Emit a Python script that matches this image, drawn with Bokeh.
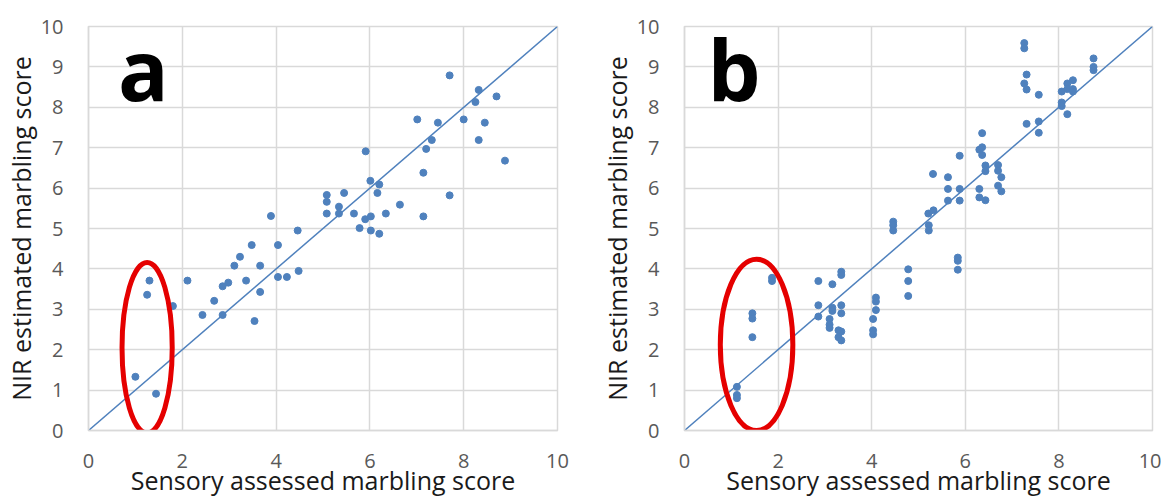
from bokeh.plotting import figure
from bokeh.layouts import row
from bokeh.models import Label, FixedTicker
from bokeh.embed import file_html
from bokeh.resources import INLINE

# ---- data ----
a_x = [1.00, 1.25, 1.30, 1.44, 1.80, 2.11, 2.43, 2.68, 2.86, 2.86, 2.98, 3.11, 3.23, 3.36, 3.48,
       3.54, 3.66, 3.66, 3.89, 4.04, 4.04, 4.23, 4.46, 4.48, 5.08, 5.08, 5.08, 5.34, 5.34, 5.45,
       5.66, 5.78, 5.90, 5.91, 6.01, 6.02, 6.02, 6.16, 6.20, 6.20, 6.34, 6.64, 7.01, 7.14, 7.14,
       7.20, 7.32, 7.45, 7.70, 7.70, 8.00, 8.25, 8.32, 8.32, 8.45, 8.70, 8.88]
a_y = [1.33, 3.36, 3.71, 0.91, 3.08, 3.71, 2.86, 3.21, 2.86, 3.57, 3.66, 4.08, 4.30, 3.71, 4.59,
       2.71, 4.08, 3.43, 5.31, 4.59, 3.80, 3.80, 4.95, 3.95, 5.83, 5.66, 5.37, 5.54, 5.37, 5.88,
       5.37, 5.01, 5.23, 6.91, 6.18, 5.30, 4.95, 5.88, 4.87, 6.09, 5.37, 5.59, 7.70, 6.38, 5.30,
       6.97, 7.19, 7.62, 8.79, 5.82, 7.70, 8.13, 8.43, 7.19, 7.62, 8.27, 6.68]

b_x = [1.12, 1.12, 1.12, 1.45, 1.45, 1.45, 1.87, 1.87,
       2.86, 2.86, 2.86, 3.16, 3.16, 3.16, 3.10, 3.10, 3.10, 3.35, 3.35, 3.35, 3.35, 3.29, 3.35, 3.29, 3.35,
       4.09, 4.09, 4.09, 4.03, 4.03, 4.03,
       4.78, 4.78, 4.78,
       4.46, 4.46, 4.46,
       5.21, 5.22, 5.22, 5.32,
       5.84, 5.84, 5.84,
       5.31, 5.63, 5.63, 5.63, 5.88, 5.88, 5.88,
       6.30, 6.36, 6.36, 6.36, 6.43, 6.43, 6.30, 6.30, 6.43,
       6.70, 6.70, 6.77, 6.70, 6.77,
       7.26, 7.26, 7.31, 7.26, 7.31, 7.57, 7.31, 7.57, 7.57,
       8.06, 8.18, 8.30, 8.18, 8.30, 8.30, 8.06, 8.06, 8.18,
       8.74, 8.74, 8.74]
b_y = [1.08, 0.88, 0.80, 2.31, 2.90, 2.77, 3.78, 3.70,
       3.70, 3.10, 2.82, 3.62, 3.04, 2.96, 2.76, 2.62, 2.54, 3.93, 3.85, 3.10, 2.90, 2.48, 2.45, 2.31, 2.23,
       3.29, 3.19, 2.98, 2.76, 2.48, 2.38,
       3.99, 3.70, 3.33,
       5.17, 5.08, 4.95,
       5.37, 5.08, 4.95, 5.45,
       4.28, 4.20, 3.98,
       6.35, 6.27, 5.98, 5.69, 6.80, 5.98, 5.69,
       6.95, 7.01, 6.82, 7.36, 6.56, 6.42, 5.98, 5.77, 5.70,
       6.57, 6.43, 6.27, 6.06, 5.92,
       9.59, 9.46, 8.81, 8.59, 8.44, 8.31, 7.59, 7.65, 7.37,
       8.39, 8.59, 8.67, 8.45, 8.45, 8.39, 8.12, 8.03, 7.83,
       9.21, 9.00, 8.92]

line_x = [0, 10]
line_y = [0, 10]
ticks_x = [0, 2, 4, 6, 8, 10]
ticks_y = [0, 1, 2, 3, 4, 5, 6, 7, 8, 9, 10]
x_title = "Sensory assessed marbling score"
y_title = "NIR estimated marbling score"

# ellipse highlight (center x, center y, width, height) in data units
ell_a = (1.25, 2.05, 1.07, 4.22)
ell_b = (1.54, 2.12, 1.55, 4.24)

BLUE = "#4f81bd"
GRID = "#d9d9d9"
FONT = "Open Sans"


def make_panel(xs, ys, ell, letter, letter_x, fw, br):
    p = figure(frame_width=fw, frame_height=404, x_range=(0, 10), y_range=(0, 10),
               output_backend="svg", toolbar_location=None,
               min_border_left=60, min_border_right=br,
               min_border_top=26, min_border_bottom=40)
    p.outline_line_color = GRID
    p.outline_line_width = 1.5
    for ax in (p.xaxis[0], p.yaxis[0]):
        ax.major_tick_line_color = None
        ax.minor_tick_line_color = None
        ax.axis_line_color = GRID
        ax.axis_line_width = 1.5
        ax.major_label_text_font = FONT
        ax.major_label_text_font_size = "20px"
        ax.major_label_text_color = "#595959"
        ax.axis_label_text_font = FONT
        ax.axis_label_text_font_size = "25px"
        ax.axis_label_text_font_style = "normal"
        ax.axis_label_text_color = "#1a1a1a"
    p.xaxis.ticker = FixedTicker(ticks=ticks_x)
    p.yaxis.ticker = FixedTicker(ticks=ticks_y)
    p.xaxis.axis_label = x_title
    p.yaxis.axis_label = y_title
    p.xaxis.major_label_standoff = 17
    p.yaxis.major_label_standoff = 19
    p.xaxis.axis_label_standoff = -8
    p.yaxis.axis_label_standoff = 0
    p.xgrid.ticker = FixedTicker(ticks=ticks_x)
    p.ygrid.ticker = FixedTicker(ticks=ticks_y)
    p.grid.grid_line_color = GRID
    p.grid.grid_line_width = 1.5

    p.line(line_x, line_y, line_color=BLUE, line_width=1.5)
    p.scatter(xs, ys, size=7, fill_color=BLUE, line_color=BLUE)
    p.ellipse(x=[ell[0]], y=[ell[1]], width=[ell[2]], height=[ell[3]],
              fill_color=None, line_color="#e50000", line_width=5)
    p.add_layout(Label(x=letter_x, y=8.95, text=letter, text_font=FONT,
                       text_font_size="84px", text_font_style="bold",
                       text_color="black", text_baseline="alphabetic"))
    return p


p1 = make_panel(a_x, a_y, ell_a, "a", 0.63, 469, 39)
p2 = make_panel(b_x, b_y, ell_b, "b", 0.49, 468, 9)

layout = row(p1, p2)
open("out.html", "w").write(file_html(layout, INLINE))
